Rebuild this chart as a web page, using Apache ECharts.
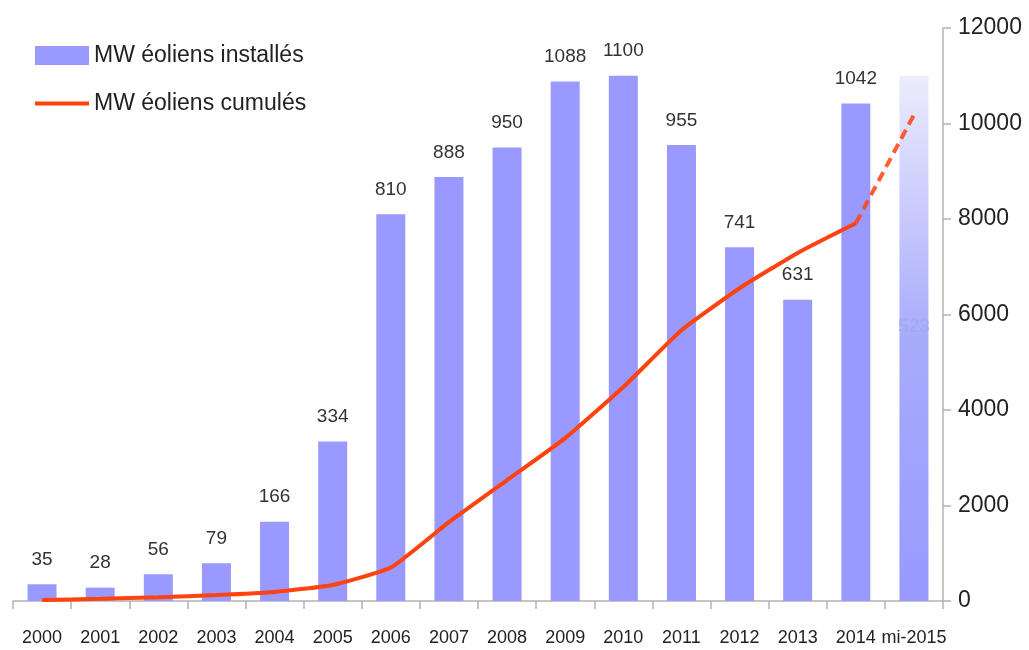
<!DOCTYPE html>
<html>
<head>
<meta charset="utf-8">
<script src="https://cdn.jsdelivr.net/npm/echarts@6/dist/echarts.min.js"></script>
<style>
  html, body { margin: 0; padding: 0; background: #fff; }
  #chart { width: 1029px; height: 650px; }
</style>
</head>
<body>
<div id="chart"></div>
<script>
// categories and values
const years = ['2000', '2001', '2002', '2003', '2004', '2005', '2006', '2007',
  '2008', '2009', '2010', '2011', '2012', '2013', '2014', 'mi-2015'];
const installed = [35, 28, 56, 79, 166, 334, 810, 888, 950, 1088, 1100, 955, 741, 631, 1042, 523];
// height of the faded mi-2015 bar (projected full year)
const projectedTotal = [null, null, null, null, null, null, null, null,
  null, null, null, null, null, null, null, 1100];
const cumulated = [20, 45, 80, 125, 190, 335, 700, 1650, 2530, 3410, 4480, 5670, 6550, 7290, 7910, null];
const cumulatedEstimate = [null, null, null, null, null, null, null, null,
  null, null, null, null, null, null, 7910, 10180];
const rightTicks = [0, 2000, 4000, 6000, 8000, 10000, 12000];

const font = "'Liberation Sans', Arial, sans-serif";
const barColor = '#9999ff';
const lineColor = '#ff420e';

const chart = echarts.init(document.getElementById('chart'));

// the half-year bar sits inside the faded one, only its label shows
const installedData = installed.map((v, i) => {
  if (i < installed.length - 1) return v;
  return {
    value: v,
    itemStyle: { color: 'rgba(153,153,255,0)' },
    label: { color: '#a3a9f0', distance: 15 }
  };
});

const option = {
  animation: false,
  backgroundColor: '#fff',
  grid: { left: 13, right: 86, top: 28, bottom: 49, containLabel: false },
  legend: {
    orient: 'vertical',
    left: 33,
    top: 44,
    padding: 0,
    itemWidth: 54,
    itemHeight: 19,
    itemGap: 25,
    data: [
      { name: 'MW éoliens installés', icon: 'rect' },
      {
        name: 'MW éoliens cumulés',
        itemStyle: { opacity: 0 },
        lineStyle: { width: 4, color: lineColor }
      }
    ],
    textStyle: { fontFamily: font, fontSize: 23, color: '#222' }
  },
  xAxis: {
    type: 'category',
    data: years,
    boundaryGap: true,
    axisLine: { lineStyle: { color: '#b3b3b3', width: 1.5 } },
    axisTick: { show: true, length: 8, lineStyle: { color: '#b3b3b3', width: 1.5 } },
    axisLabel: { fontFamily: font, fontSize: 18, color: '#222', margin: 28, interval: 0 }
  },
  yAxis: [
    {
      type: 'value',
      min: 0,
      max: 1200,
      show: false
    },
    {
      type: 'value',
      position: 'right',
      min: 0,
      max: 12000,
      interval: 2000,
      splitLine: { show: false },
      axisLine: { show: true, lineStyle: { color: '#b3b3b3', width: 1.5 } },
      axisTick: { show: true, length: 8, lineStyle: { color: '#b3b3b3', width: 1.5 } },
      axisLabel: {
        fontFamily: font,
        fontSize: 23,
        color: '#222',
        margin: 15,
        formatter: v => (rightTicks.includes(v) ? String(v) : '')
      }
    }
  ],
  series: [
    {
      name: 'projection',
      type: 'bar',
      yAxisIndex: 0,
      barWidth: 29,
      barGap: '-100%',
      z: 2,
      data: projectedTotal,
      itemStyle: {
        color: new echarts.graphic.LinearGradient(0, 0, 0, 1, [
          { offset: 0, color: '#ececfd' },
          { offset: 0.5, color: '#a8abfb' },
          { offset: 1, color: '#9999ff' }
        ])
      }
    },
    {
      name: 'MW éoliens installés',
      type: 'bar',
      yAxisIndex: 0,
      barWidth: 29,
      barGap: '-100%',
      z: 3,
      data: installedData,
      itemStyle: { color: barColor },
      label: {
        show: true,
        position: 'top',
        distance: 15,
        fontFamily: font,
        fontSize: 19,
        color: '#333'
      }
    },
    {
      name: 'MW éoliens cumulés',
      type: 'line',
      yAxisIndex: 1,
      data: cumulated,
      symbol: 'none',
      smooth: 0.15,
      z: 5,
      lineStyle: { color: lineColor, width: 4 },
      itemStyle: { color: lineColor }
    },
    {
      name: 'estimate',
      type: 'line',
      yAxisIndex: 1,
      data: cumulatedEstimate,
      symbol: 'none',
      z: 5,
      lineStyle: { color: lineColor, width: 4, type: [10, 6], opacity: 0.85 }
    }
  ]
};

chart.setOption(option);
</script>
</body>
</html>
